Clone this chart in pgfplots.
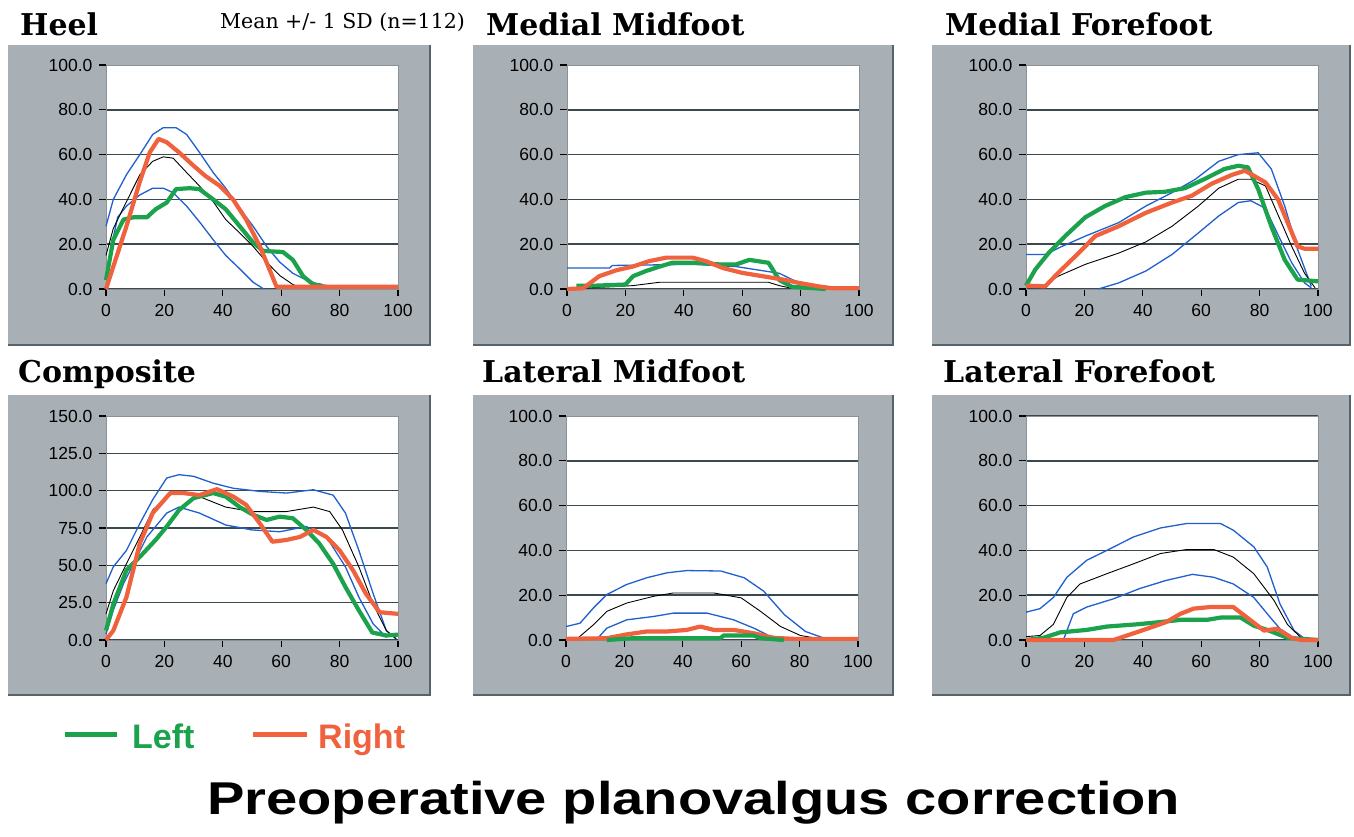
\documentclass[border=0pt]{standalone}
\usepackage{fontspec}
\setmainfont{Liberation Sans}
\newfontfamily\titlefont{DejaVu Serif}
\newfontfamily\meanfont{DejaVu Serif}
\newfontfamily\widefont[FakeStretch=1.22]{Liberation Sans}
\usepackage{pgfplots}
\pgfplotsset{compat=1.18}

\definecolor{panel}{HTML}{A9B0B5}
\definecolor{panelshadow}{HTML}{55636A}
\definecolor{gridc}{HTML}{3A4950}
\definecolor{sdblue}{HTML}{1F5FCF}
\definecolor{lgreen}{HTML}{1BA24C}
\definecolor{rred}{HTML}{F0613E}

\pgfplotsset{
  foot/.style={
    anchor=south west, scale only axis, width=292pt, height=224pt,
    xmin=0, xmax=100, ymin=0, ymax=100,
    xtick={0,20,40,60,80,100}, ytick={0,20,40,60,80},
    extra y ticks={100}, extra y tick style={grid=none},
    ymajorgrids, major grid style={gridc, line width=1.6pt},
    axis background/.style={fill=white},
    axis line style={draw=gridc!60, line width=0.6pt},
    tick align=outside, xtick pos=bottom, ytick pos=left,
    major tick length=7pt, tick style={black, line width=1.3pt},
    tick label style={font=\fontsize{17.5}{17.5}\selectfont, text=black},
    y tick label style={xshift=-3pt, /pgf/number format/.cd, fixed, fixed zerofill, precision=1, assume math mode=true},
    x tick label style={yshift=-5pt, /pgf/number format/assume math mode=true},
    clip=false,
  },
  sd/.style={sdblue, line width=1.3pt},
  mn/.style={black, line width=0.9pt},
  lf/.style={lgreen, line width=4.2pt, line join=round},
  rt/.style={rred, line width=4.2pt, line join=round},
}

\begin{document}
\begin{tikzpicture}[x=1pt, y=1pt]
\useasboundingbox (0,0) rectangle (1354,837);
\fill[white] (0,0) rectangle (1354,837);

% grey panels
\foreach \xa/\xb/\ya/\yb in {8/430/492/792, 473/893/492/792, 932/1350/492/792,
                             8/430/142/442, 473/893/142/442, 932/1350/142/442}{
  \fill[panel] (\xa,\ya) rectangle (\xb,\yb);
  \draw[panelshadow, line width=2.5pt] (\xa,\ya) -- (\xb,\ya) -- (\xb,\yb);
}

% panel titles
\begin{scope}[every node/.style={anchor=base west, inner sep=0pt, font=\titlefont\bfseries\fontsize{30}{30}\selectfont}]
\node at (20,801) {Heel};
\node at (486,801) {Medial Midfoot};
\node at (945,801) {Medial Forefoot};
\node at (18,454) {Composite};
\node at (482,454) {Lateral Midfoot};
\node at (943,454) {Lateral Forefoot};
\end{scope}
\node[anchor=base west, inner sep=0pt, font=\meanfont\fontsize{20.5}{20.5}\selectfont] at (220,808) {Mean +/- 1 SD (n=112)};

% Heel
\begin{axis}[foot, at={(106pt,548pt)}]
\addplot[sd] coordinates {(0,28)(2.5,40)(7,51)(11.6,60)(16,69)(19.6,72)(24,72)(27.6,69)(32,61)(36.7,52)(41,45)(45.8,36)(50.4,28)(55,19)(59.5,12)(64,7)(68.6,4)(73,2)(76,1.5)};
\addplot[sd] coordinates {(0,5)(2,20)(4,32)(7,37)(11.6,42)(16,45)(19.6,45)(23,43)(27.6,37)(32,30)(36.7,22)(41,15)(45.8,9)(50.4,3)(54,0)};
\addplot[mn] coordinates {(0,15)(2.5,27)(7,39)(11.6,51)(16,57)(19.6,59)(23,58.4)(27.6,52)(32,46)(36.7,39)(41,31)(45.8,25)(50.4,19)(55,12)(59.5,6)(64,2)(65,1.5)};
\addplot[lf] coordinates {(0,4)(2.5,22)(6,31)(9.4,32)(14,32)(17,35.6)(20.8,38.6)(24,44.6)(28.7,45)(32,44.6)(36.7,40)(41,35.6)(45.8,28)(50.4,20.7)(53.8,17)(60.6,16.5)(64,13)(67.5,5.7)(71,2)(74,1.5)};
\addplot[rt] coordinates {(0,0)(2.5,10)(7,28)(11.6,48)(15,61)(18,67)(20.8,65.5)(25,61)(30,55)(34,50.5)(39,46)(43.5,40)(48,31)(52.7,19)(56,8.7)(58.4,1)(100,1)};
\end{axis}

% Medial Midfoot
\begin{axis}[foot, at={(567pt,548pt)}]
\addplot[sd] coordinates {(0,9.4)(14.6,9.4)(15.5,10.5)(43,11)(58,10)(72.7,7)(79.5,2.7)(83,0.5)};
\addplot[mn] coordinates {(0,0)(22.5,1.5)(31.7,3)(69,3)(72.7,1.5)(77,0.3)};
\addplot[lf] coordinates {(3.2,1.5)(10,1.5)(20,2)(22.6,5.7)(27,8)(31.7,10)(36,11.7)(45,11.7)(52,11)(58,11)(62.4,13)(69,11.7)(72.7,4)(77,1)(88.6,0)};
\addplot[rt] coordinates {(0,0)(5.5,0.3)(11,5.7)(17,8.4)(22.5,10)(28,12.4)(34,14)(43,14)(47.6,12.4)(53.3,9.4)(60,7.2)(67,5.7)(74,4.2)(79.5,2.7)(86,1.2)(91,0.3)(100,0.3)};
\end{axis}

% Medial Forefoot
\begin{axis}[foot, at={(1026pt,548pt)}]
\addplot[sd] coordinates {(0,15.4)(6.6,15.4)(12.3,19)(20.3,23.6)(31.7,29.6)(41,37)(50,43)(58,49)(66,57)(72.7,60)(79.5,60.8)(84,53.6)(88.6,37)(93,17.7)(97.7,1.2)};
\addplot[sd] coordinates {(24.8,0)(31.7,2.7)(41,8)(50,15.4)(59,25)(66,32.6)(72.7,38.6)(77,39.4)(82,36)(86,25)(91,11.7)(95.4,2.7)(97.7,0.5)};
\addplot[mn] coordinates {(0,1.5)(6.6,2)(11,5.7)(20.3,11)(31.7,16)(41,21)(50,28)(59,37)(66,45)(72.7,49)(77,49)(82,46)(86,34)(91,19)(95.4,7)(99,0.5)};
\addplot[lf] coordinates {(0,1.5)(3.2,8.7)(7.7,16)(13.4,23.6)(20.3,32)(27,37)(34,41)(41,43)(47.6,43.4)(54.4,45)(61,49)(68,53.6)(72.7,55)(76,54.3)(79.5,44.6)(84,28)(88.6,13)(93,4.2)(100,3.4)};
\addplot[rt] coordinates {(0,1.5)(6.6,1.2)(11,7.2)(18,16)(23.7,23.6)(31.7,28)(41,34)(50,38.6)(56.7,41.6)(63.6,47)(70.6,51)(75,52.8)(82,47.6)(86.3,40)(93,19)(95.4,18)(100,18)};
\end{axis}

% Composite
\begin{axis}[foot, at={(106pt,197pt)}, ymax=150, ytick={0,25,50,75,100,125}, extra y ticks={150}]
\addplot[sd] coordinates {(0,37.7)(2.5,49)(7,60)(11.6,78)(16,94)(20.8,108.5)(25,110.7)(30,109.6)(36.7,105)(43.6,101.6)(52.7,99.5)(61.8,98.4)(71,100.6)(77.8,97)(82,85)(86.6,60)(91.5,31)(96,6.3)(99.4,0.7)};
\addplot[sd] coordinates {(0,4)(2.5,20)(6,37.7)(9.4,51)(14,69)(20.8,85)(25,89)(32,85)(41,77)(50,73.7)(59.5,72.5)(68.6,76)(75.5,69)(82,49)(86.6,28.7)(91.5,10.8)(96,1.8)};
\addplot[mn] coordinates {(0,17.5)(2.5,33)(7,51)(11.6,69)(16,87)(20.8,96)(25,99.5)(32,96)(41,89)(50,86)(61.8,86)(71,89)(76.6,86)(81,73.6)(86.6,49)(91.5,24)(96,6.3)(99.4,0.7)};
\addplot[lf] coordinates {(0,6.3)(2.5,24)(7,46.7)(11.6,55.7)(17,67)(20.8,76)(25,87)(30,95)(36.7,98.4)(41,96)(45.8,89)(50.4,83.8)(55,80.4)(59.5,82.6)(64,81.5)(68.6,73.7)(73,64.7)(77.8,51)(82,35.5)(86.6,19.8)(91.2,5)(96,3)(100,3.6)};
\addplot[rt] coordinates {(0,0)(2.5,6.3)(7,28.7)(11.6,64.7)(16,85)(22,98.4)(26.5,98.4)(32,97)(38,101)(43.6,96)(48,90.5)(52.7,78)(57,65.8)(61.8,67)(66.4,69)(71,73.7)(75.5,69)(80,60)(84.6,46.7)(89,31)(93.7,18.6)(100,17.5)};
\end{axis}

% Lateral Midfoot
\begin{axis}[foot, at={(566pt,197pt)}]
\addplot[sd] coordinates {(0,6)(4.8,7.5)(9.4,14.3)(14,20.3)(20.8,24.8)(27.7,27.8)(34.6,30)(41.4,31)(53,30.8)(61,27.8)(67.7,21.8)(74.8,11.3)(82,3.8)(88,1)};
\addplot[sd] coordinates {(11,1)(14,5.3)(20.8,9)(30,10.5)(36.8,12)(48.3,12)(57.4,9)(64.3,5.3)(69,2.3)};
\addplot[mn] coordinates {(4.2,1)(9.4,6.8)(14,12.8)(20.8,16.5)(30,19.5)(36.8,21)(50.6,21)(60,18.8)(66.6,12.8)(73.5,6)(80.3,2)(84.9,1)};
\addplot[rt] coordinates {(0,0.5)(14,0.8)(20.8,2.5)(27.7,3.8)(34.6,3.8)(41.4,4.5)(46,6)(50.6,4.5)(57.4,4.5)(64.3,3)(71,1)(78,0.5)(100,0.5)};
\addplot[lf] coordinates {(14,0)(23,0.8)(52.9,0.8)(54,2)(64.3,2)(66.6,0.8)(74.6,0)};
\end{axis}

% Lateral Forefoot
\begin{axis}[foot, at={(1026pt,197pt)}, ytick={0,20,40,60,80,100}, extra y ticks={}]
\addplot[sd] coordinates {(0,12.4)(4.8,14)(9.4,19)(14,28)(20.8,35.6)(27.7,40)(36.8,46)(46,50)(55,52)(66.6,52)(71,49)(78,41.6)(82.6,32.6)(87,16)(91.8,4.2)(95,1)};
\addplot[sd] coordinates {(12.8,0)(16.2,11.7)(20.8,14.7)(30,18.4)(39,23)(48,26.6)(57,29.3)(64.3,28)(71,25)(78,19)(83.7,10)(87,5)(90.6,2)};
\addplot[mn] coordinates {(0,1.5)(4.8,2)(9.4,7)(14,19)(18.5,25)(27.7,29.6)(36.8,34)(46,38.6)(55,40.4)(64.3,40.4)(71,37)(78,29.6)(84.9,17.7)(89.5,7)(94,1.2)};
\addplot[lf] coordinates {(0,0)(6,1)(11.7,3.4)(20.8,4.5)(27.7,6)(38,7)(46,8)(52.9,9)(62,9)(66.6,10)(73.5,10)(78,6.4)(82.6,4.5)(89.5,1)(100,0)};
\addplot[rt] coordinates {(0,0)(30,0)(34.6,2)(41.4,5)(48,8)(52.9,11.7)(57.4,14)(63,14.7)(71,14.7)(75.7,10)(81.5,4.2)(86,5)(90.6,1.2)(94,0)(100,0)};
\end{axis}

% legend
\draw[lgreen, line width=5pt] (65,102) -- (117,102);
\node[anchor=base west, inner sep=0pt, text=lgreen, font=\bfseries\fontsize{34}{34}\selectfont] at (132,88) {Left};
\draw[rred, line width=5pt] (253,102) -- (307,102);
\node[anchor=base west, inner sep=0pt, text=rred, font=\bfseries\fontsize{34}{34}\selectfont] at (318,88) {Right};

% main title
\node[anchor=base west, inner sep=0pt, font=\widefont\bfseries\fontsize{46}{46}\selectfont] at (207,22) {Preoperative planovalgus correction};
\end{tikzpicture}
\end{document}
